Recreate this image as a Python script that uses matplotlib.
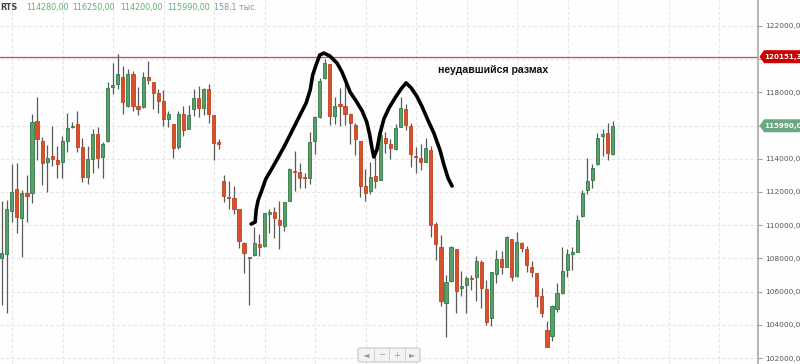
import numpy as np
import matplotlib.pyplot as plt
from matplotlib.patches import Polygon, FancyBboxPatch
import matplotlib.transforms as mtransforms

# daily candles, RTS index (open, high, low, close)
opens = [108020, 108270, 110860, 112180, 110430, 111940, 111940, 116280, 115070, 113810,
         114170, 113930, 113810, 115070, 115920, 116100, 114710, 112900, 113990, 115490,
         114110, 115070, 118330, 118510, 118930, 117180, 119110, 117180, 117120, 118930,
         118630, 117960, 117480, 116400, 116100, 114710, 116700, 115800, 117000, 117660,
         117060, 118210, 116640, 115010, 112660, 111700, 111640, 110980, 108930, 108020,
         108210, 108870, 108750, 110680, 110800, 110310, 109950, 111460, 113270, 113210,
         112900, 112840, 115070, 116520, 118870, 119710, 116580, 117300, 117180, 116700,
         116040, 115070, 112360, 112060, 112960, 112720, 115250, 114890, 114590, 115920,
         117000, 115980, 114170, 114050, 113810, 114530, 110070, 108690, 105310, 106640,
         108570, 106220, 106400, 106820, 106880, 107780, 106160, 104410, 107060, 107960,
         107480, 109170, 106940, 108930, 108570, 107480, 107120, 105740, 103690, 103330,
         104950, 105920, 107300, 108270, 108390, 110550, 112120, 112720, 113690, 115370,
         115550, 114280]
highs = [111460, 111520, 113690, 113750, 112120, 113020, 116700, 117720, 115310, 114830,
         115980, 114770, 115370, 116760, 116220, 116880, 115250, 114770, 115800, 115920,
         115010, 118630, 119770, 120310, 119590, 119410, 119290, 118330, 119230, 119890,
         118650, 118210, 118140, 116880, 116120, 116880, 117180, 117240, 118210, 118390,
         118270, 118510, 116660, 115190, 113020, 112660, 112360, 111000, 108990, 108100,
         109890, 109470, 110760, 110980, 111100, 111460, 111420, 113450, 114470, 113750,
         113140, 115610, 116580, 118870, 120010, 119730, 117720, 118270, 118570, 116760,
         116160, 115090, 113390, 113810, 114290, 115610, 115610, 115190, 116100, 117720,
         117300, 116160, 114710, 114890, 115250, 114770, 110190, 109410, 107000, 108750,
         108580, 107240, 106940, 107000, 108150, 107900, 106700, 107200, 108510, 108450,
         109350, 109190, 109590, 108990, 108750, 107840, 107140, 106220, 104230, 105190,
         106520, 108690, 108570, 108690, 110610, 112120, 114050, 113690, 115550, 115800,
         116160, 116250]
lows = [105190, 104710, 110190, 109530, 108080, 110190, 111340, 113930, 112420, 112000,
        113570, 112840, 112840, 114410, 115860, 114410, 112600, 112480, 113140, 113450,
        112840, 115010, 117900, 118210, 116700, 117120, 116880, 116640, 117060, 118510,
        117000, 116760, 115980, 115920, 114050, 114590, 115370, 115780, 116580, 116520,
        116640, 116160, 113930, 114590, 111400, 110980, 110680, 108630, 107120, 105190,
        108150, 108150, 108690, 109530, 109230, 108570, 109650, 111440, 112060, 112240,
        112240, 112480, 114290, 116460, 118810, 116040, 116100, 115980, 116040, 114890,
        114230, 111700, 111460, 111880, 112240, 112700, 114350, 113990, 114530, 115900,
        115740, 113510, 113140, 113330, 113800, 109290, 107900, 105130, 103270, 106580,
        104710, 105740, 104710, 106100, 105430, 105010, 103990, 103930, 106520, 107060,
        107460, 106640, 106880, 108390, 107180, 106880, 105070, 104470, 102640, 103020,
        104770, 105860, 106880, 107300, 108380, 110490, 111880, 112240, 113630, 114170,
        113930, 114200]
closes = [108330, 110980, 112000, 110490, 111940, 111760, 116220, 115190, 113750, 114050,
          113990, 113690, 115070, 115860, 115980, 114710, 112900, 113990, 115490, 114050,
          114890, 118270, 118450, 119110, 117420, 119110, 117180, 117000, 118930, 118750,
          117960, 117480, 116400, 116700, 114650, 116700, 115740, 116640, 117660, 117060,
          118210, 116700, 114950, 114890, 111760, 111640, 110980, 109050, 108330, 108080,
          108930, 108690, 110740, 110800, 110430, 110010, 111400, 113390, 113210, 112840,
          112840, 115010, 116520, 118690, 119770, 116580, 117180, 117180, 116700, 116160,
          115190, 112360, 111940, 112900, 112660, 115430, 114950, 114650, 115860, 117060,
          116040, 114290, 114110, 113810, 114650, 110010, 108870, 105430, 106580, 108690,
          106040, 106340, 106820, 106760, 107840, 106220, 104170, 107180, 107960, 107480,
          109290, 106880, 108990, 108630, 107600, 107180, 105740, 104710, 102660, 105130,
          105920, 107240, 108270, 108390, 110310, 111940, 112660, 113450, 115250, 115490,
          114350, 115990]

level = 120151.37
yticks = list(range(102000, 122001, 2000))

# hand drawn "double top" stroke, (candle index, price)
stroke_x = [49.4, 50.2, 50.4, 50.8, 51.4, 52.3, 53.7, 54.7, 55.9, 57.1, 58.5, 59.5, 60.3,
            61.1, 61.6, 62.4, 63.0, 63.8, 65.0, 66.4, 67.4, 68.2, 69.0, 70.2, 71.4, 72.3,
            72.9, 73.3, 73.7, 74.3, 74.9, 75.7, 76.7, 77.9, 79.1, 80.1, 81.1, 82.2, 83.2,
            84.4, 85.6, 86.8, 87.6, 88.4, 89.2]
stroke_y = [110070, 110190, 110920, 111520, 112000, 112780, 113510, 114050, 114710, 115430,
            116280, 116880, 117360, 118140, 119050, 119770, 120250, 120370, 120190, 119770,
            119230, 118630, 118020, 117480, 116880, 116220, 115430, 114710, 114110, 114530,
            115490, 116400, 117060, 117660, 118210, 118570, 118270, 117780, 117180, 116340,
            115550, 114530, 113630, 112840, 112360]

W, H = 800, 364
fig = plt.figure(figsize=(W / 100, H / 100), dpi=100, facecolor='#fefefe')
ax = fig.add_axes([0, 0, 758 / W, 1])
ax.set_facecolor('#fefefe')

n = len(opens)
idx = np.arange(n)
ax.set_xlim(-0.34, 149.8)
ax.set_ylim(123566 - 60.24 * 364, 123566)

# grid
for g in yticks:
    ax.axhline(g, color='#e6e6e6', lw=0.8, ls=(0, (3, 2)), zorder=0)
for g in np.arange(2.1, 150, 10):
    ax.axvline(g, color='#e6e6e6', lw=0.8, ls=(0, (3, 2)), zorder=0)

ax.axhline(level, color='#d64541', lw=0.9, zorder=1)

for i in idx:
    o, h, l, c = opens[i], highs[i], lows[i], closes[i]
    up = c >= o
    ax.vlines(i, l, h, color='#5a5a5a', lw=0.9, zorder=2)
    fill = '#5b9e6c' if up else '#d8512c'
    edge = '#2f7a45' if up else '#c2401e'
    ax.bar(i, max(abs(c - o), 70), bottom=min(o, c), width=0.62,
           color=fill, edgecolor=edge, linewidth=0.6, zorder=3)

ax.plot(stroke_x, stroke_y, color='black', lw=2.6, solid_capstyle='round',
        solid_joinstyle='round', zorder=5)
ax.text(86.4, 119320, 'неудавшийся размах', fontsize=7.6, fontweight='bold',
        family='Liberation Sans', color='#111111', va='center', ha='left', zorder=6)

# right price scale (labels under the price tags are hidden, as on the terminal)
for s in ['top', 'left', 'bottom']:
    ax.spines[s].set_visible(False)
ax.spines['right'].set_color('#a8a8a8')
ax.spines['right'].set_linewidth(1.2)
ax.yaxis.tick_right()
ax.set_yticks(yticks)
ax.set_yticklabels(['' if v in (116000, 120000) else f'{v},00' for v in yticks])
ax.tick_params(axis='y', colors='#a0a0a0', labelcolor='#555555', labelsize=5.3,
               length=3, width=0.8, pad=2.5)
ax.set_xticks([])

# price tags on the scale
tr = mtransforms.blended_transform_factory(ax.transAxes, ax.transData)
for val, txt, col in [(level, '120151,37', '#cc0000'), (closes[-1], '115990,00', '#6aa883')]:
    hh = 6.5 * 60.24
    poly = Polygon([(1.002, val), (1.008, val + hh), (1.06, val + hh),
                    (1.06, val - hh), (1.008, val - hh)], closed=True,
                   transform=tr, facecolor=col, edgecolor='none', clip_on=False, zorder=10)
    ax.add_patch(poly)
    ax.text(1.0085, val, txt, transform=tr, color='white', fontsize=5.1,
            fontweight='bold', va='center', ha='left', clip_on=False, zorder=11)

# header line
hy = 1 - 7.5 / H
fig.text(0 / W, hy, 'RTS', fontsize=5.8, fontweight='bold', color='#444444', va='center')
for xp, t in [(26, '114280,00'), (72, '116250,00'), (120, '114200,00'), (167, '115990,00')]:
    fig.text(xp / W, hy, t, fontsize=5.8, color='#5fae78', va='center')
fig.text(214 / W, hy, '158,1 тыс.', fontsize=5.8, color='#8493ab', va='center')

# navigation widget
nav = FancyBboxPatch((358 / W, 2 / H), 62 / W, 14 / H, boxstyle='round,pad=0,rounding_size=0.004',
                     transform=fig.transFigure, facecolor='#f3f3f3', edgecolor='#c8c8c8', lw=0.8)
fig.patches.append(nav)
for k in range(1, 4):
    xs = (358 + 15.5 * k) / W
    fig.add_artist(plt.Line2D([xs, xs], [3 / H, 15 / H], color='#d0d0d0', lw=0.7))
for k, s in enumerate(['◄', '−', '+', '►']):
    fig.text((358 + 7.75 + 15.5 * k) / W, 9 / H, s, fontsize=6, color='#9a9a9a',
             ha='center', va='center')

fig.savefig('out.png', dpi=100, facecolor=fig.get_facecolor())
